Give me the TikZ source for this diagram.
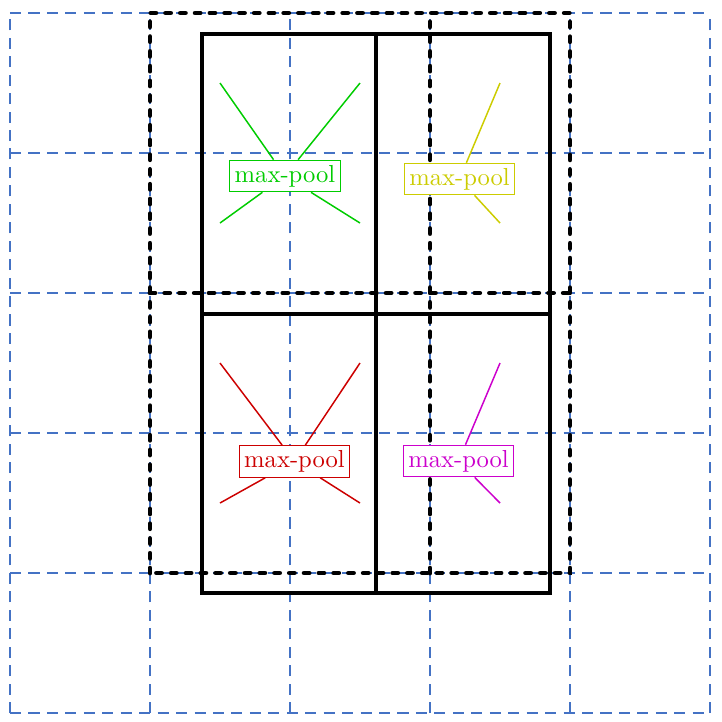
\documentclass[tikz,border=0pt]{standalone}
\definecolor{gridblue}{RGB}{68,114,196}
\definecolor{poolgreen}{RGB}{0,204,0}
\definecolor{poolyellow}{RGB}{204,204,0}
\definecolor{poolred}{RGB}{204,0,0}
\definecolor{poolmagenta}{RGB}{204,0,204}
\begin{document}
\begin{tikzpicture}[x=2cm,y=2cm,
    pool/.style={draw=#1,text=#1,thin,fill=white,inner sep=2pt},
    link/.style={semithick,#1},
    window/.style={line width=2pt,line cap=round,dash pattern=on 2pt off 4pt}]
  \useasboundingbox (-0.0714,-0.064) rectangle (5.0786,5.093);
  \begin{scope}
    % input grid
    \draw[gridblue,semithick,dash pattern=on 4.5pt off 3pt,step=1] (0,0) grid (5,5);
    % pooling windows
    \draw[window] (1,1) rectangle (4,5);
    \draw[window] (3,1) -- (3,5);
    \draw[window] (1,3) -- (4,3);
    % output cells
    \draw[ultra thick] (1.371,0.857) rectangle (3.857,4.85);
    \draw[ultra thick] (2.614,0.857) -- (2.614,4.85);
    \draw[ultra thick] (1.371,2.85) -- (3.857,2.85);
  \end{scope}
  \foreach \i in {1,2,3}
    \foreach \j in {1,...,4}
      \coordinate (c\i\j) at (\i+0.5,\j+0.5);
  \node[pool=poolgreen] (mpA) at (1.964,3.836) {max-pool};
  \node[pool=poolyellow] (mpB) at (3.211,3.814) {max-pool};
  \node[pool=poolred] (mpC) at (2.032,1.797) {max-pool};
  \node[pool=poolmagenta] (mpD) at (3.204,1.8) {max-pool};
  \draw[link=poolgreen] (mpA) -- (c14);
  \draw[link=poolgreen] (mpA) -- (c24);
  \draw[link=poolgreen] (mpA) -- (c13);
  \draw[link=poolgreen] (mpA) -- (c23);
  \draw[link=poolyellow] (mpB) -- (c34);
  \draw[link=poolyellow] (mpB) -- (c33);
  \draw[link=poolred] (mpC) -- (c12);
  \draw[link=poolred] (mpC) -- (c22);
  \draw[link=poolred] (mpC) -- (c11);
  \draw[link=poolred] (mpC) -- (c21);
  \draw[link=poolmagenta] (mpD) -- (c32);
  \draw[link=poolmagenta] (mpD) -- (c31);
\end{tikzpicture}
\end{document}
